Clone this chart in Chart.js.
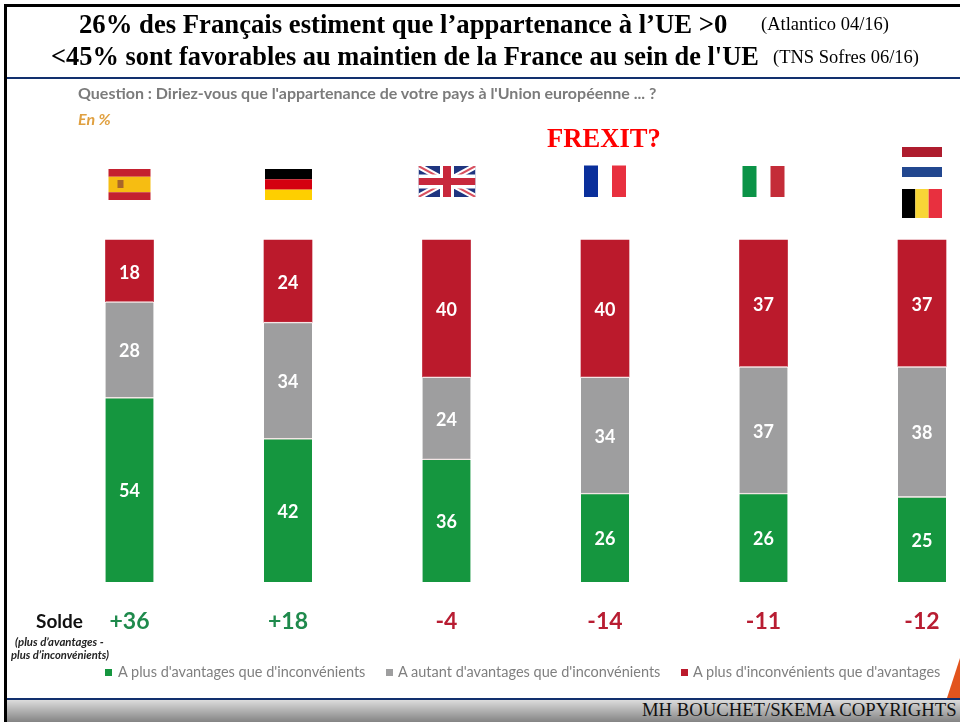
<!DOCTYPE html>
<html lang="fr">
<head>
<meta charset="utf-8">
<title>FREXIT</title>
<script src="https://cdn.jsdelivr.net/npm/chart.js@4"></script>
<style>
html, body { margin: 0; padding: 0; background: #fff; }
#page { position: relative; width: 960px; height: 722px; overflow: hidden; background: #fff; }
#page canvas { position: absolute; left: 0; top: 0; }
.txt { position: absolute; white-space: nowrap; }
.serif { font-family: "Liberation Serif", serif; color: #000; }
.calibri { font-family: Lato, sans-serif; }
#border-left { position: absolute; left: 4px; top: 4px; width: 3px; height: 718px; background: #000; }
#border-top { position: absolute; left: 4px; top: 4px; width: 956px; height: 3px; background: #000; }
#title-line { position: absolute; left: 7px; top: 77px; width: 953px; height: 2px; background: #12306e; }
#foot-line { position: absolute; left: 7px; top: 698px; width: 953px; height: 2px; background: #12306e; }
#foot { position: absolute; left: 7px; top: 700px; width: 953px; height: 22px; background: linear-gradient(#dcdcdc, #848484); }
#wedge { position: absolute; left: 947px; top: 658px; width: 13px; height: 40px; background: #e2541d; clip-path: polygon(100% 0, 100% 100%, 0 100%); }
.legend-box { position: absolute; width: 7px; height: 7px; top: 669px; }
</style>
</head>
<body>
<div id="page">
  <canvas id="chart" width="960" height="722"></canvas>
  <div id="border-top"></div>
  <div id="border-left"></div>
  <div class="txt serif" style="left:79px;top:9px;font-size:26.7px;font-weight:bold;">26% des Français estiment que l’appartenance à l’UE &gt;0</div>
  <div class="txt serif" style="left:761px;top:14px;font-size:18.5px;">(Atlantico 04/16)</div>
  <div class="txt serif" style="left:51px;top:41px;font-size:26.4px;font-weight:bold;">&lt;45% sont favorables au maintien de la France au sein de l'UE</div>
  <div class="txt serif" style="left:773px;top:47px;font-size:18.5px;">(TNS Sofres 06/16)</div>
  <div id="title-line"></div>
  <div class="txt calibri" style="left:78px;top:83px;font-size:16px;font-weight:bold;color:#7b7b7b;">Question : Diriez-vous que l'appartenance de votre pays à l'Union européenne ... ?</div>
  <div class="txt calibri" style="left:78px;top:109px;font-size:16px;font-weight:bold;font-style:italic;color:#e0a040;">En %</div>
  <div class="txt serif" style="left:547px;top:123px;font-size:26.6px;font-weight:bold;color:#ff0000;">FREXIT?</div>
  <div class="txt calibri" style="left:36px;top:609px;font-size:19px;font-weight:bold;color:#111;">Solde</div>
  <div class="txt calibri" style="left:15px;top:635px;font-size:11.4px;font-weight:bold;font-style:italic;color:#222;">(plus d’avantages -</div>
  <div class="txt calibri" style="left:11px;top:648px;font-size:11.2px;font-weight:bold;font-style:italic;color:#222;">plus d’inconvénients)</div>
  <div id="legend"></div>
  <div id="wedge"></div>
  <div id="foot-line"></div>
  <div id="foot"></div>
  <div class="txt serif" style="left:642px;top:699px;font-size:18.7px;color:#111;">MH BOUCHET/SKEMA COPYRIGHTS</div>
</div>
<script>
const categories = ['Espagne', 'Allemagne', 'Royaume-Uni', 'France', 'Italie', 'Pays-Bas / Belgique'];
const seriesNames = ["A plus d'avantages que d'inconvénients", "A autant d'avantages que d'inconvénients", "A plus d'inconvénients que d'avantages"];
const avantages = [54, 42, 36, 26, 26, 25];
const autant = [28, 34, 24, 34, 37, 38];
const inconvenients = [18, 24, 40, 40, 37, 37];
const solde = ['+36', '+18', '-4', '-14', '-11', '-12'];

const GREEN = '#15963f';
const GREY = '#9e9e9f';
const RED = '#bb1a2c';

// petits drapeaux au-dessus des barres
function stripesV(ctx, x, y, w, h, colors) {
    const step = w / colors.length;
    colors.forEach((c, i) => {
        if (c) { ctx.fillStyle = c; ctx.fillRect(x + i * step, y, step, h); }
    });
}

function stripesH(ctx, x, y, w, h, colors, weights) {
    const total = weights.reduce((a, b) => a + b, 0);
    let cy = y;
    colors.forEach((c, i) => {
        const bh = h * weights[i] / total;
        ctx.fillStyle = c;
        ctx.fillRect(x, cy, w, bh);
        cy += bh;
    });
}

function drawUk(ctx, x, y, w, h) {
    ctx.save();
    ctx.beginPath();
    ctx.rect(x, y, w, h);
    ctx.clip();
    ctx.fillStyle = '#1f3580';
    ctx.fillRect(x, y, w, h);
    ctx.beginPath();
    ctx.moveTo(x, y); ctx.lineTo(x + w, y + h);
    ctx.moveTo(x + w, y); ctx.lineTo(x, y + h);
    ctx.strokeStyle = '#fff';
    ctx.lineWidth = 6;
    ctx.stroke();
    ctx.strokeStyle = '#d8505f';
    ctx.lineWidth = 2;
    ctx.stroke();
    ctx.fillStyle = '#fff';
    ctx.fillRect(x + w / 2 - 7, y, 14, h);
    ctx.fillRect(x, y + h / 2 - 7, w, 14);
    ctx.fillStyle = '#c8283c';
    ctx.fillRect(x + w / 2 - 4, y, 8, h);
    ctx.fillRect(x, y + h / 2 - 3.5, w, 7);
    ctx.restore();
}

const flagsPlugin = {
    id: 'flags',
    afterDatasetsDraw(chart) {
        const ctx = chart.ctx;
        const xs = chart.scales.x;
        const cx = (i) => xs.getPixelForValue(i);
        stripesH(ctx, cx(0) - 21, 169, 42, 31, ['#c4202f', '#f6bd12', '#c4202f'], [1, 2, 1]);
        ctx.fillStyle = '#a8662a';
        ctx.fillRect(cx(0) - 12, 180, 6, 8);
        stripesH(ctx, cx(1) - 23, 169, 47, 31, ['#000', '#d40010', '#fecf00'], [1, 1, 1]);
        drawUk(ctx, cx(2) - 28, 166, 57, 31);
        stripesV(ctx, cx(3) - 21, 165.5, 42, 31.5, ['#0a2f9b', null, '#e8303f']);
        stripesV(ctx, cx(4) - 21, 166, 42, 31, ['#0b9347', null, '#c42c38']);
        ctx.fillStyle = '#ae1c2e';
        ctx.fillRect(cx(5) - 20, 147, 40, 10);
        ctx.fillStyle = '#22478f';
        ctx.fillRect(cx(5) - 20, 167, 40, 10);
        stripesV(ctx, cx(5) - 20, 189, 40, 29, ['#000', '#f8d637', '#e8303f']);
    }
};

// valeurs dans les barres et ligne du solde
const labelsPlugin = {
    id: 'barLabels',
    afterDatasetsDraw(chart) {
        const ctx = chart.ctx;
        ctx.save();
        ctx.textAlign = 'center';
        ctx.textBaseline = 'middle';
        ctx.font = 'bold 18px Lato, sans-serif';
        ctx.fillStyle = '#fff';
        chart.data.datasets.forEach((ds, d) => {
            chart.getDatasetMeta(d).data.forEach((bar, i) => {
                ctx.fillText(ds.data[i], bar.x, (bar.y + bar.base) / 2 + 2);
            });
        });
        ctx.font = 'bold 23px Lato, sans-serif';
        solde.forEach((s, i) => {
            ctx.fillStyle = s[0] == '+' ? '#1f8a4c' : '#b81d32';
            ctx.fillText(s, chart.scales.x.getPixelForValue(i), 622);
        });
        ctx.restore();
    }
};

// filet clair entre les segments : seulement au-dessus du vert et du gris
const separator = { borderColor: '#f4e6e6', borderWidth: { top: 1.5 }, borderSkipped: false };

new Chart(document.getElementById('chart'), {
    type: 'bar',
    data: {
        labels: categories,
        datasets: [
            { label: seriesNames[0], data: avantages, backgroundColor: GREEN, ...separator },
            { label: seriesNames[1], data: autant, backgroundColor: GREY, ...separator },
            { label: seriesNames[2], data: inconvenients, backgroundColor: RED }
        ].map(ds => ({ ...ds, barThickness: 48, clip: false }))
    },
    options: {
        responsive: false,
        animation: false,
        layout: { padding: { left: 129.5, right: 38, top: 240, bottom: 140 } },
        plugins: { legend: { display: false }, tooltip: { enabled: false } },
        scales: {
            x: { stacked: true, offset: false, display: false },
            y: { stacked: true, display: false, min: 0, max: 100 }
        }
    },
    plugins: [flagsPlugin, labelsPlugin]
});

// légende en HTML, à partir des séries
const legendPos = [[105, 118], [386, 398], [681, 693]];
const legendColors = [GREEN, GREY, RED];
const legend = document.getElementById('legend');
seriesNames.forEach((name, i) => {
    legend.innerHTML += `<div class="legend-box" style="left:${legendPos[i][0]}px;background:${legendColors[i]}"></div>
    <div class="txt calibri" style="left:${legendPos[i][1]}px;top:663px;font-size:14.5px;color:#7f7f7f;">${name}</div>`;
});
</script>
</body>
</html>
